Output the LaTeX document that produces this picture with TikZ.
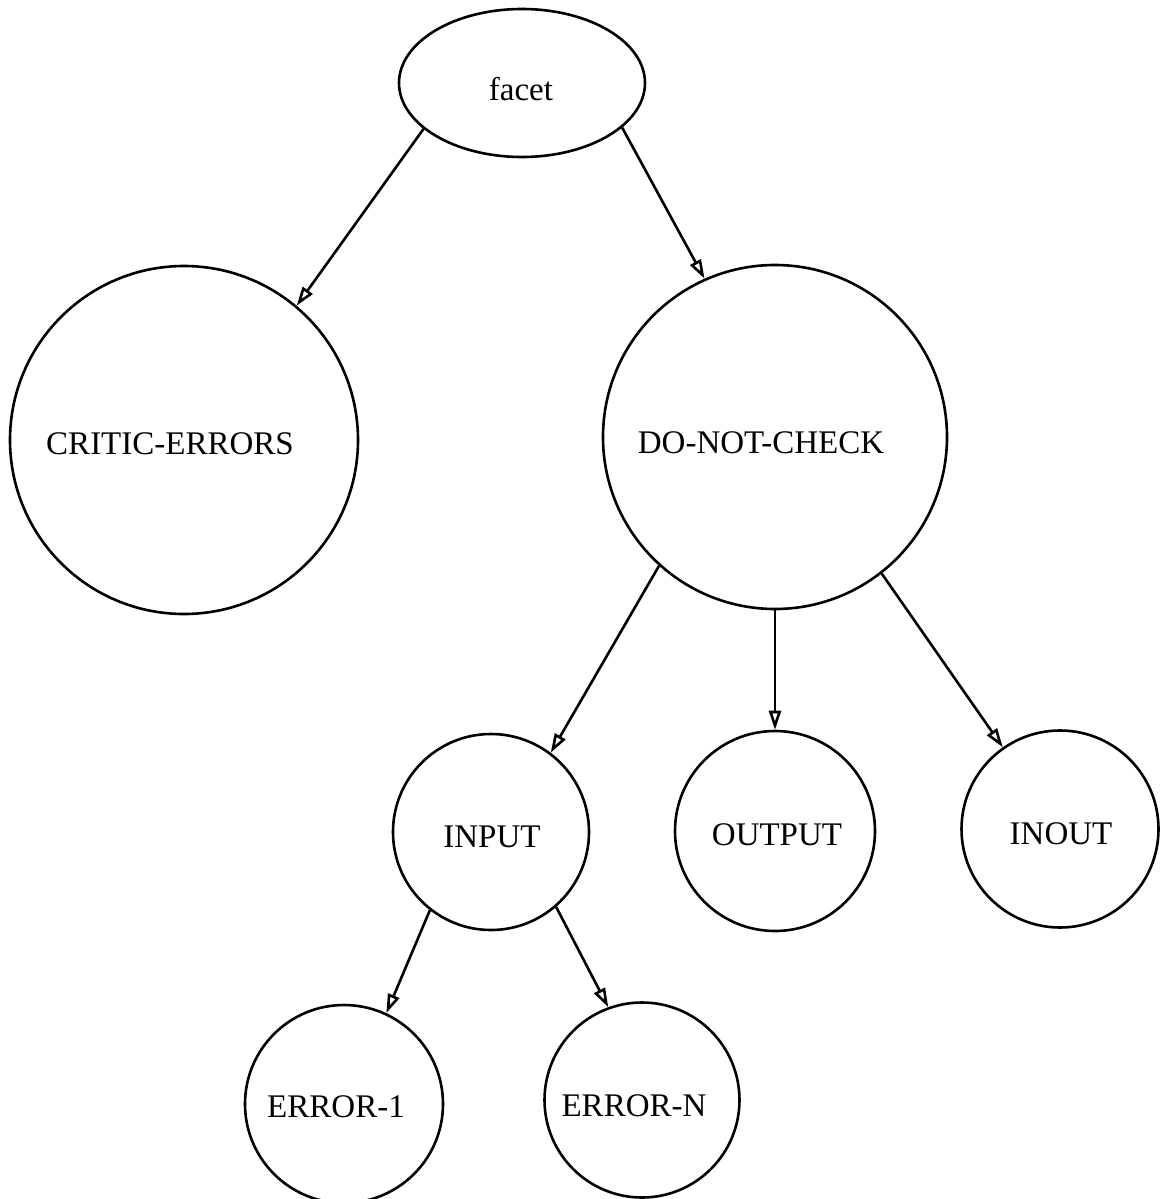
\documentclass[tikz,border=0pt]{standalone}
\usepackage{fontspec}
\setmainfont{Liberation Serif}
\usetikzlibrary{arrows.meta,shapes.geometric}
\begin{document}
\begin{tikzpicture}[x=1pt,y=-1pt,
  every node/.style={font=\fontsize{33}{40}\selectfont},
  circ/.style={draw,circle,line width=2.6pt,inner sep=0pt},
  oval/.style={draw,ellipse,line width=2.6pt,inner sep=0pt},
  lbl/.style={inner sep=0pt},
  link/.style={line width=2.6pt,-{Triangle[open,length=19pt,width=12pt]}}]
\useasboundingbox (0,0) rectangle (1161,1199);

% shapes
\node[oval,minimum width=246pt,minimum height=148pt] (facet) at (522,83) {};
\node[circ,minimum size=348pt] (crit)   at (184,440)  {};
\node[circ,minimum size=344pt] (dnc)    at (775,437)  {};
\node[circ,minimum size=196pt] (input)  at (491,832)  {};
\node[circ,minimum size=200pt] (output) at (775,831)  {};
\node[circ,minimum size=197pt] (inout)  at (1060,829) {};
\node[circ,minimum size=198pt] (err1)   at (344,1104) {};
\node[circ,minimum size=195pt] (errn)   at (642,1100) {};

% labels
\node[lbl] (facetT)  at (521,89)   {facet};
\node[lbl] (critT)   at (170,444)  {CRITIC-ERRORS};
\node[lbl] (dncT)    at (761,443)  {DO-NOT-CHECK};
\node[lbl] (inputT)  at (492,837)  {INPUT};
\node[lbl] (outputT) at (777,835)  {OUTPUT};
\node[lbl] (inoutT)  at (1061,834) {INOUT};
\node[lbl] (err1T)   at (336,1107) {ERROR-1};
\node[lbl] (errnT)   at (634,1106) {ERROR-N};

% links
\draw[link] (facet.205.6) -- (crit.50.7);
\draw[link] (facet.336)   -- (dnc.114.4);
\draw[link] (dnc.228.2)   -- (input.53.5);
\draw[link] (dnc.270)     -- (output.90);
\draw[link] (dnc.308.7)   -- (inout.125.7);
\draw[link] (input.232.2) -- (err1.65.7);
\draw[link] (input.311.6) -- (errn.110.6);
\end{tikzpicture}
\end{document}
